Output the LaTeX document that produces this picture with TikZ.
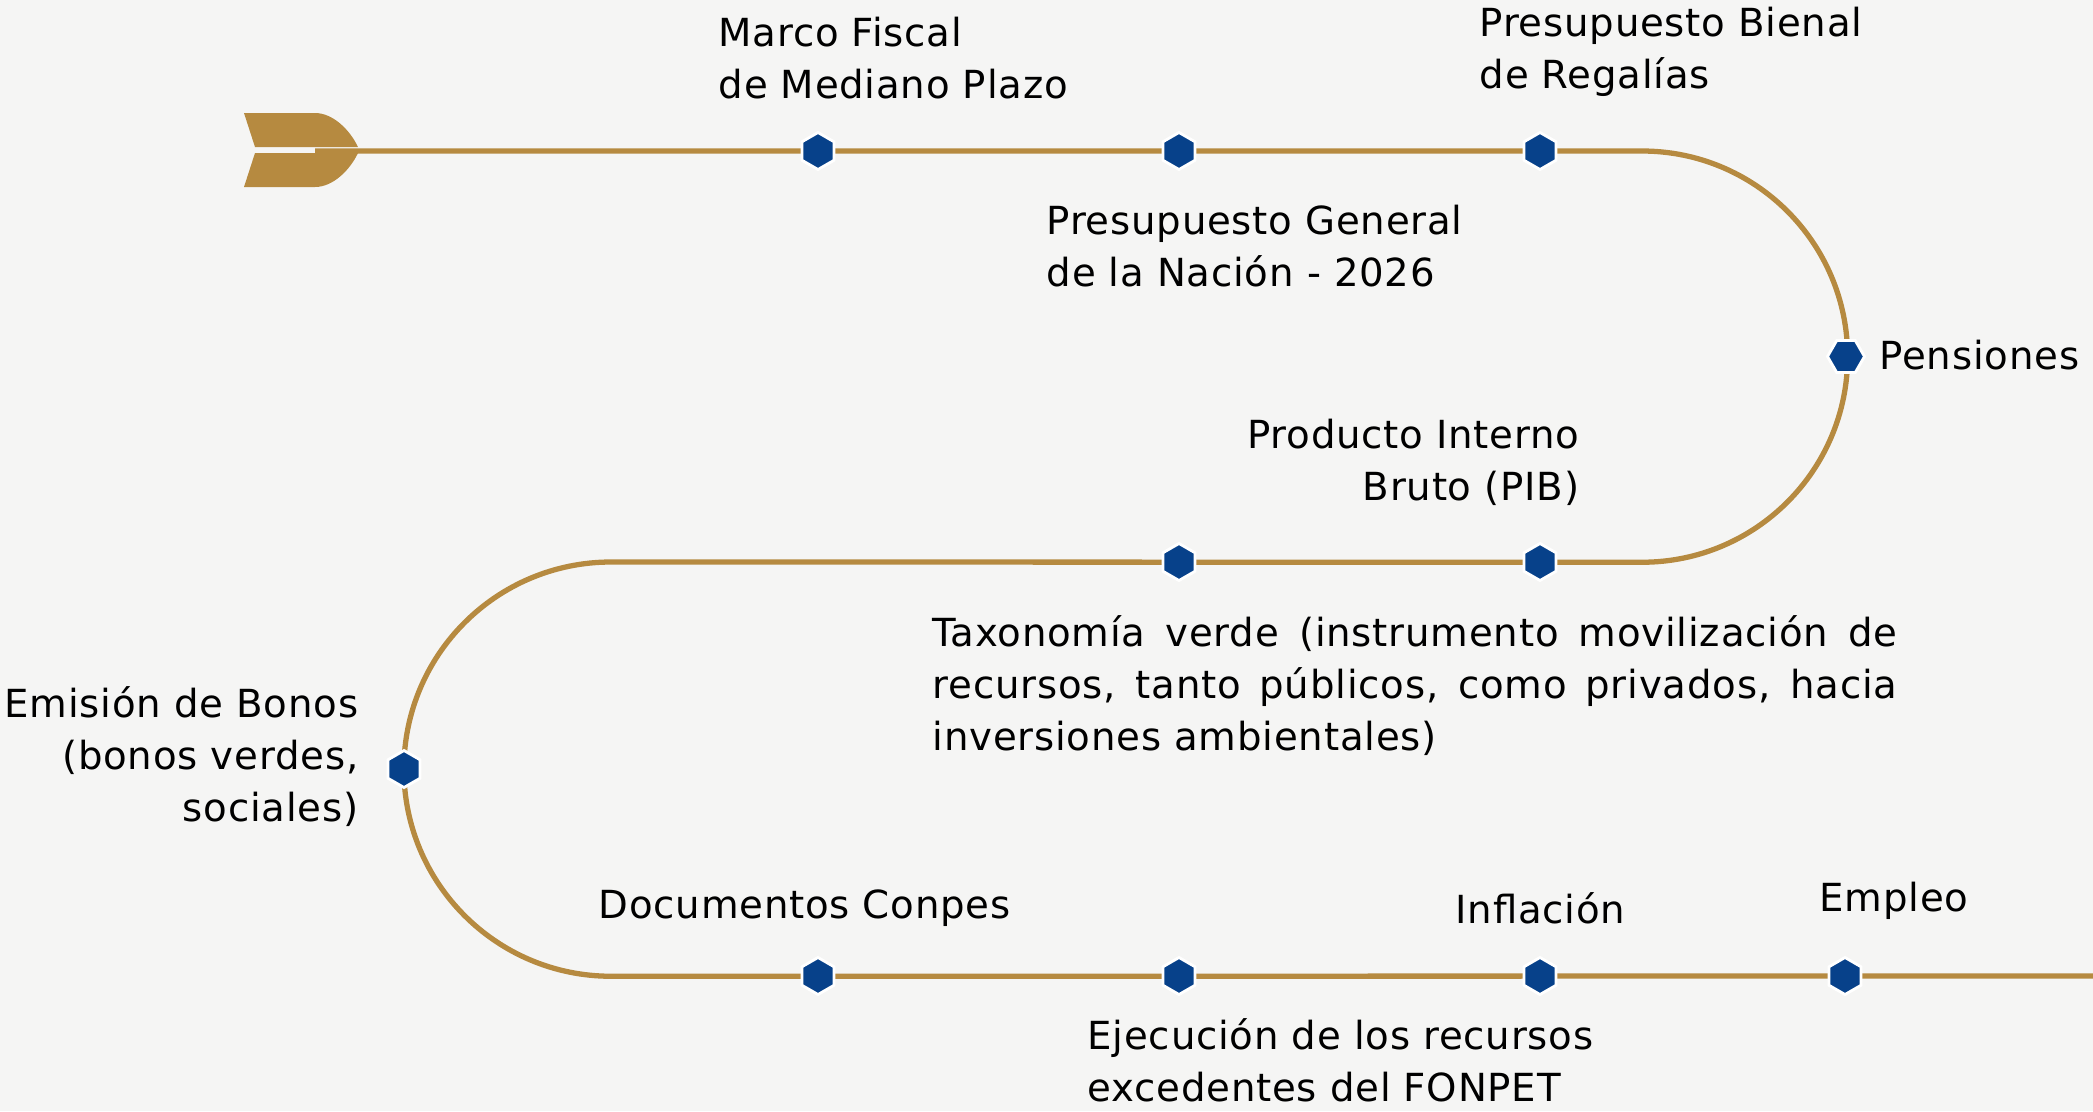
\documentclass[tikz,border=0pt]{standalone}
\usepackage{fontspec}
\setmainfont{DejaVu Sans}[LetterSpace=2]
\usetikzlibrary{shapes.geometric}
\definecolor{oro}{HTML}{B68A40}
\definecolor{azul}{HTML}{07418A}
\definecolor{papel}{HTML}{F5F5F4}

\begin{document}
\begin{tikzpicture}[x=0.01cm,y=-0.01cm,
    track/.style={color=oro,line width=1.5pt},
    hito/.style={regular polygon,regular polygon sides=6,shape border rotate=90,
      fill=azul,draw=white,line width=0.8pt,minimum size=0.37cm,inner sep=0pt},
    etiqueta/.style={font=\fontsize{11}{14.8}\selectfont,inner sep=0pt}]
  \fill[papel] (0,0) rectangle (2093,1111);
  \useasboundingbox (0,0) rectangle (2093,1111);
  % tail of the arrow
  \fill[oro] (244,113) -- (315,113) .. controls (333,113) and (350,130) .. (358,147)
    -- (255,147) -- cycle;
  \fill[oro] (244,187) -- (315,187) .. controls (333,187) and (350,170) .. (358,153)
    -- (255,153) -- cycle;
  % track
  \coordinate (cola) at (315,151);
  \coordinate (r1) at (1642,151);
  \coordinate (l1) at (611,562);
  \coordinate (fin) at (2093,976);
  \draw[track] (cola) -- (r1) arc[start angle=90,end angle=-90,radius=2.055cm]
    -- (l1) arc[start angle=90,end angle=270,radius=2.07cm] -- (fin);
  % milestones
  \node[hito] (h1) at (818,151) {};
  \node[hito] (h2) at (1179,151) {};
  \node[hito] (h3) at (1540,151) {};
  \node[hito,shape border rotate=0] (h4) at (1846,356.5) {};
  \node[hito] (h5) at (1179,562) {};
  \node[hito] (h6) at (1540,562) {};
  \node[hito] (h7) at (404,769) {};
  \node[hito] (h8) at (818,976) {};
  \node[hito] (h9) at (1179,976) {};
  \node[hito] (h10) at (1540,976) {};
  \node[hito] (h11) at (1845,976) {};
  % labels
  \node[etiqueta,anchor=west,align=left] (marco) at (718,58) {Marco Fiscal\\de Mediano Plazo};
  \node[etiqueta,anchor=west,align=left] (bienal) at (1479,51.5) {Presupuesto Bienal\\de Regalías};
  \node[etiqueta,anchor=west,align=left] (general) at (1046,246.5) {Presupuesto General\\de la Nación - 2026};
  \node[etiqueta,anchor=west] (pensiones) at (1879,355) {Pensiones};
  \node[etiqueta,anchor=east,align=right] (pib) at (1580,462.5) {Producto Interno\\Bruto (PIB)};
  \node[etiqueta,anchor=west,text width=9.64cm,align=justify] (taxonomia) at (932,686)
    {Taxonomía verde (instrumento movilización de\linebreak recursos, tanto públicos, como privados, hacia\linebreak inversiones ambientales)};
  \node[etiqueta,anchor=east,align=right] (bonos) at (359,757) {Emisión de Bonos\\(bonos verdes,\\sociales)};
  \node[etiqueta,anchor=west] (conpes) at (598,908) {Documentos Conpes};
  \node[etiqueta,anchor=west] (inflacion) at (1455,908) {Inflación};
  \node[etiqueta,anchor=west] (empleo) at (1819,901) {Empleo};
  \node[etiqueta,anchor=west,align=left] (fonpet) at (1087,1060.5) {Ejecución de los recursos\\excedentes del FONPET};
\end{tikzpicture}
\end{document}
